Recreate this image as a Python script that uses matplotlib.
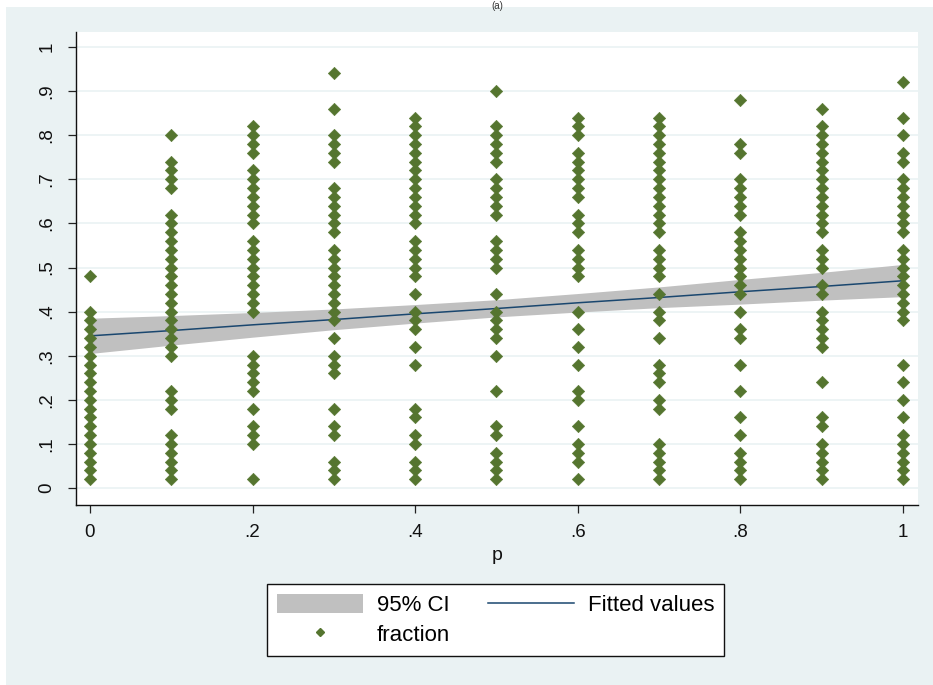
import matplotlib
matplotlib.use("Agg")
import matplotlib.pyplot as plt
from matplotlib.lines import Line2D
from matplotlib.patches import Patch, Rectangle

# scatter data: fraction observed at each level of p
p_levels = [0.0, 0.1, 0.2, 0.3, 0.4, 0.5, 0.6, 0.7, 0.8, 0.9, 1.0]

frac_p00 = [0.02, 0.04, 0.06, 0.08, 0.10, 0.12, 0.14, 0.16, 0.18, 0.20, 0.22,
            0.24, 0.26, 0.28, 0.30, 0.32, 0.34, 0.36, 0.38, 0.40, 0.48]
frac_p01 = [0.02, 0.04, 0.06, 0.08, 0.10, 0.12, 0.18, 0.20, 0.22, 0.30, 0.32,
            0.34, 0.36, 0.38, 0.40, 0.42, 0.44, 0.46, 0.48, 0.50, 0.52, 0.54,
            0.56, 0.58, 0.60, 0.62, 0.68, 0.70, 0.72, 0.74, 0.80]
frac_p02 = [0.02, 0.10, 0.12, 0.14, 0.18, 0.22, 0.24, 0.26, 0.28, 0.30, 0.40,
            0.42, 0.44, 0.46, 0.48, 0.50, 0.52, 0.54, 0.56, 0.60, 0.62, 0.64,
            0.66, 0.68, 0.70, 0.72, 0.76, 0.78, 0.80, 0.82]
frac_p03 = [0.02, 0.04, 0.06, 0.12, 0.14, 0.18, 0.26, 0.28, 0.30, 0.34, 0.38,
            0.40, 0.42, 0.44, 0.46, 0.48, 0.50, 0.52, 0.54, 0.58, 0.60, 0.62,
            0.64, 0.66, 0.68, 0.74, 0.76, 0.78, 0.80, 0.86, 0.94]
frac_p04 = [0.02, 0.04, 0.06, 0.10, 0.12, 0.16, 0.18, 0.28, 0.32, 0.36, 0.38,
            0.40, 0.44, 0.48, 0.50, 0.52, 0.54, 0.56, 0.60, 0.62, 0.64, 0.66,
            0.68, 0.70, 0.72, 0.74, 0.76, 0.78, 0.80, 0.82, 0.84]
frac_p05 = [0.02, 0.04, 0.06, 0.08, 0.12, 0.14, 0.22, 0.30, 0.34, 0.36, 0.38,
            0.40, 0.44, 0.50, 0.52, 0.54, 0.56, 0.62, 0.64, 0.66, 0.68, 0.70,
            0.74, 0.76, 0.78, 0.80, 0.82, 0.90]
frac_p06 = [0.02, 0.06, 0.08, 0.10, 0.14, 0.20, 0.22, 0.28, 0.32, 0.36, 0.40,
            0.48, 0.50, 0.52, 0.54, 0.58, 0.60, 0.62, 0.66, 0.68, 0.70, 0.72,
            0.74, 0.76, 0.80, 0.82, 0.84]
frac_p07 = [0.02, 0.04, 0.06, 0.08, 0.10, 0.18, 0.20, 0.24, 0.26, 0.28, 0.34,
            0.38, 0.40, 0.44, 0.48, 0.50, 0.52, 0.54, 0.58, 0.60, 0.62, 0.64,
            0.66, 0.68, 0.70, 0.72, 0.74, 0.76, 0.78, 0.80, 0.82, 0.84]
frac_p08 = [0.02, 0.04, 0.06, 0.08, 0.12, 0.16, 0.22, 0.28, 0.34, 0.36, 0.40,
            0.44, 0.46, 0.48, 0.50, 0.52, 0.54, 0.56, 0.58, 0.62, 0.64, 0.66,
            0.68, 0.70, 0.76, 0.78, 0.88]
frac_p09 = [0.02, 0.04, 0.06, 0.08, 0.10, 0.14, 0.16, 0.24, 0.32, 0.34, 0.36,
            0.38, 0.40, 0.44, 0.46, 0.50, 0.52, 0.54, 0.58, 0.60, 0.62, 0.64,
            0.66, 0.68, 0.70, 0.72, 0.74, 0.76, 0.78, 0.80, 0.82, 0.86]
frac_p10 = [0.02, 0.04, 0.06, 0.08, 0.10, 0.12, 0.16, 0.20, 0.24, 0.28, 0.38,
            0.40, 0.42, 0.44, 0.46, 0.48, 0.50, 0.52, 0.54, 0.58, 0.60, 0.62,
            0.64, 0.66, 0.68, 0.70, 0.74, 0.76, 0.80, 0.84, 0.92]

fractions = [frac_p00, frac_p01, frac_p02, frac_p03, frac_p04, frac_p05,
             frac_p06, frac_p07, frac_p08, frac_p09, frac_p10]

# linear fit with 95% CI
fit_p = [0.0, 0.1, 0.2, 0.3, 0.4, 0.5, 0.6, 0.7, 0.8, 0.9, 1.0]
fit_values = [0.345, 0.357, 0.370, 0.382, 0.395, 0.407, 0.420, 0.432, 0.445, 0.457, 0.470]
ci_lower = [0.305, 0.324, 0.342, 0.359, 0.374, 0.388, 0.399, 0.409, 0.417, 0.426, 0.434]
ci_upper = [0.385, 0.391, 0.398, 0.406, 0.416, 0.427, 0.441, 0.456, 0.473, 0.489, 0.507]

y_ticks = [0.0, 0.1, 0.2, 0.3, 0.4, 0.5, 0.6, 0.7, 0.8, 0.9, 1.0]
y_tick_labels = ["0", ".1", ".2", ".3", ".4", ".5", ".6", ".7", ".8", ".9", "1"]
x_ticks = [0.0, 0.2, 0.4, 0.6, 0.8, 1.0]
x_tick_labels = ["0", ".2", ".4", ".6", ".8", "1"]

plt.rcParams["font.family"] = ["Liberation Sans", "DejaVu Sans"]

BG = "#EAF2F3"
GREEN = "#55752F"
NAVY = "#1A476F"
CI_GRAY = "#C0C0C0"
W, H = 933, 685

fig = plt.figure(figsize=(W / 100, H / 100), dpi=100, facecolor="white")
fig.patches.append(
    Rectangle((6 / W, 0), 1, 1 - 7 / H, transform=fig.transFigure,
              facecolor=BG, edgecolor="none", zorder=-1)
)
fig.text(497 / W, 1 - 1 / H, "(a)", ha="center", va="top", fontsize=7, color="#333333")

ax = fig.add_axes([76 / W, 1 - 505 / H, 842 / W, 473 / H])
ax.set_facecolor("white")

ax.fill_between(fit_p, ci_lower, ci_upper, color=CI_GRAY, linewidth=0, zorder=2)
ax.plot(fit_p, fit_values, color=NAVY, linewidth=1.1, zorder=3)

xs, ys = [], []
for p, values in zip(p_levels, fractions):
    xs.extend([p] * len(values))
    ys.extend(values)
ax.scatter(xs, ys, marker="D", s=40, color=GREEN, edgecolors=GREEN,
           linewidths=0.4, zorder=4)

ax.set_xlim(-0.0172, 1.0185)
ax.set_ylim(-0.0385, 1.034)
ax.set_yticks(y_ticks)
ax.set_yticklabels(y_tick_labels, rotation=90, va="center")
ax.set_xticks(x_ticks)
ax.set_xticklabels(x_tick_labels)
ax.tick_params(axis="both", length=6, width=0.9, color="#222222",
               labelsize=13.5, labelcolor="#111111")
ax.tick_params(axis="y", pad=9)
ax.tick_params(axis="x", pad=8)
ax.set_xlabel("p", fontsize=14, color="#111111", labelpad=4)

ax.grid(axis="y", color=BG, linewidth=1.2, zorder=0)
ax.set_axisbelow(True)
for side in ["top", "right"]:
    ax.spines[side].set_visible(False)
for side in ["left", "bottom"]:
    ax.spines[side].set_color("#111111")
    ax.spines[side].set_linewidth(1.0)

handles = [
    Patch(facecolor=CI_GRAY, edgecolor="none", label="95% CI"),
    Line2D([], [], marker="D", linestyle="none", markersize=4.5,
           color=GREEN, label="fraction"),
    Line2D([], [], color=NAVY, linewidth=1.1, label="Fitted values"),
]
leg = fig.legend(
    handles=handles,
    loc="center",
    bbox_to_anchor=(495.5 / W, 1 - 620 / H),
    ncol=2,
    fontsize=16,
    frameon=True,
    fancybox=False,
    handlelength=3.9,
    handleheight=0.9,
    handletextpad=0.6,
    columnspacing=1.7,
    labelspacing=0.35,
    borderpad=0.45,
)
leg.get_frame().set_edgecolor("#111111")
leg.get_frame().set_linewidth(1.0)
leg.get_frame().set_facecolor("white")
leg.get_frame().set_alpha(1)

fig.savefig("out.png", dpi=100, facecolor=fig.get_facecolor())
